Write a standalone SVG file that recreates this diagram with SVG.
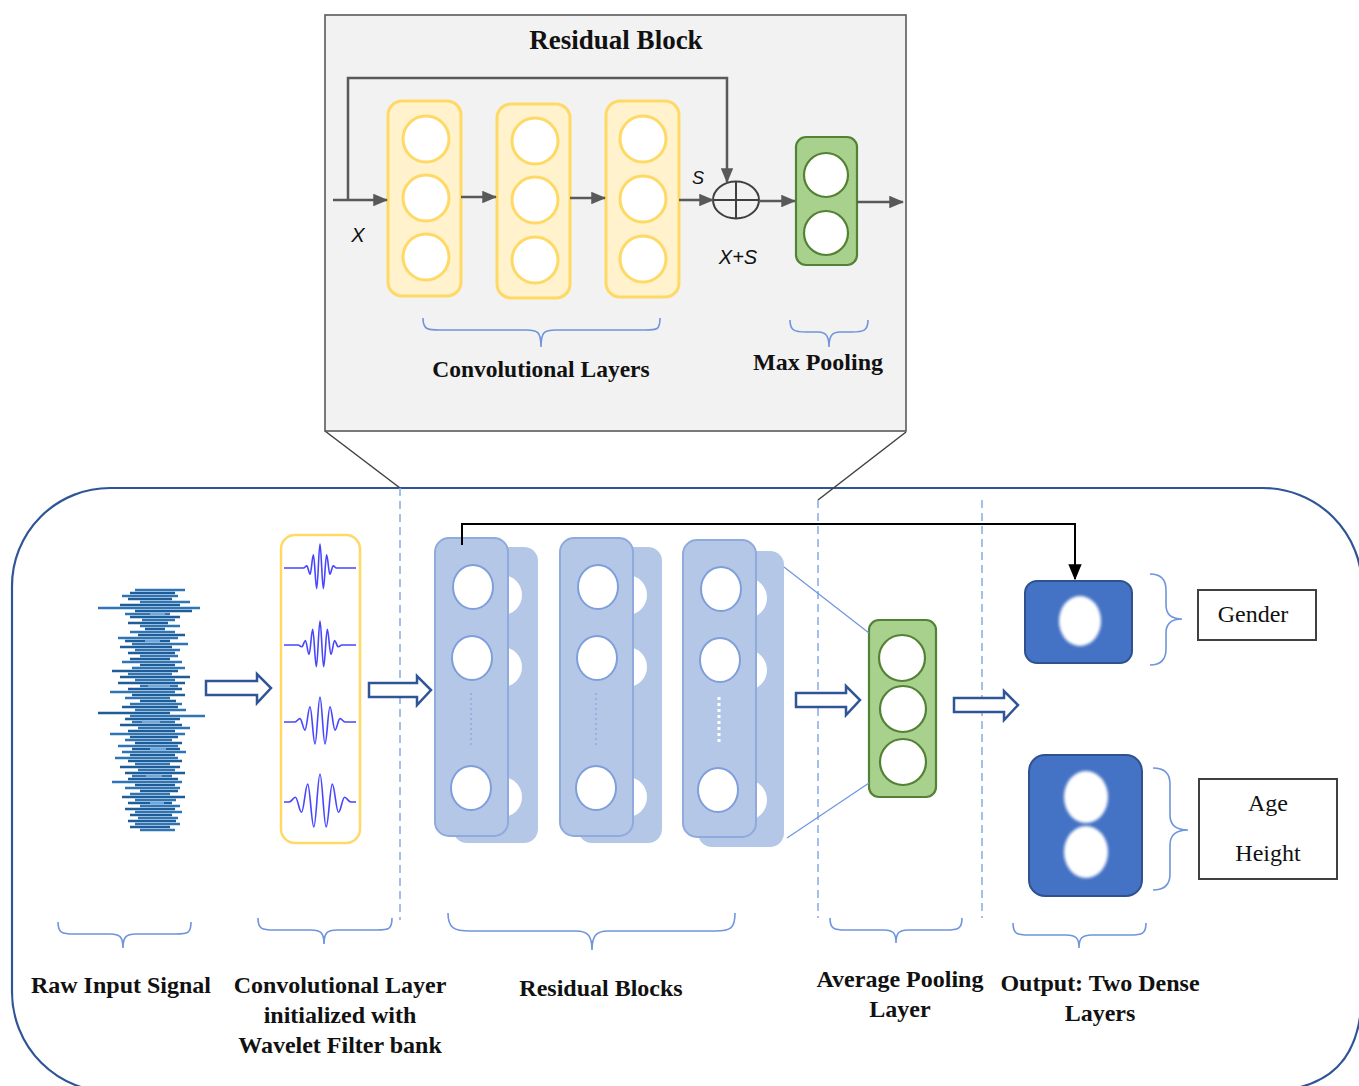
<svg xmlns="http://www.w3.org/2000/svg" width="1359" height="1086" viewBox="0 0 1359 1086">
<defs>
<style>
.lbl{font-family:"Liberation Serif","Times New Roman",serif;font-weight:bold;font-size:24px;fill:#111;text-anchor:middle}
.it{font-family:"Liberation Sans",Arial,sans-serif;font-style:italic;font-size:20px;fill:#111;text-anchor:middle}
.reg{font-family:"Liberation Serif","Times New Roman",serif;font-size:24px;fill:#111;text-anchor:middle}
.conv{fill:#fff2cc;stroke:#ffd966;stroke-width:3}
.cc{fill:#fff;stroke:#ffd966;stroke-width:3}
.grn{fill:#a9d18e;stroke:#548235;stroke-width:2.2}
.gc{fill:#fff;stroke:#548235;stroke-width:2.2}
.rb{fill:#b4c7e7;stroke:#8faadc;stroke-width:2}
.rbb{fill:#b4c7e7}
.rc{fill:#fff;stroke:#7f9fdb;stroke-width:2}
.ga{stroke:#595959;stroke-width:2.5;fill:none;marker-end:url(#ah)}
.ha{fill:#fff;stroke:#2f5597;stroke-width:2.5;stroke-linejoin:miter}
.br{fill:none;stroke:#6f95dc;stroke-width:1.6}
.dash{stroke:#8fb0e8;stroke-width:1.6;stroke-dasharray:8 5}
.wv{fill:none;stroke:#4646ff;stroke-width:1.6;stroke-linejoin:round}
.den{fill:#4472c4;stroke:#2f528f;stroke-width:2}
.sig1{fill:none;stroke:#2e75b6;stroke-width:2.6}
.sig2{fill:none;stroke:#1f5d99;stroke-width:2.6}
.sig3{fill:none;stroke:#6fa8dc;stroke-width:2.4}
</style>
<marker id="ah" viewBox="0 0 12 10" refX="11" refY="5" markerWidth="6" markerHeight="5" orient="auto">
<path d="M0,0 L12,5 L0,10 z" fill="#595959"/>
</marker>
<marker id="bk" viewBox="0 0 12 10" refX="11" refY="5" markerWidth="8" markerHeight="7" orient="auto">
<path d="M0,0 L12,5 L0,10 z" fill="#000"/>
</marker>
<filter id="blur" x="-30%" y="-30%" width="160%" height="160%">
<feGaussianBlur stdDeviation="1.4"/>
</filter>
</defs>
<rect width="1359" height="1086" fill="#fff"/>

<!-- outer frame -->
<path id="frame" d="M110,488 H1263 A99,99 0 0 1 1362,587 V990 C1362,1060 1330,1092 1258,1092 H112 A100,100 0 0 1 12,992 V586 A98,98 0 0 1 110,488 Z" fill="none" stroke="#2f5597" stroke-width="2.2"/>

<!-- zoom lines -->
<g id="zoomlines" stroke="#404040" stroke-width="1.5">
<line x1="325" y1="431" x2="400" y2="488"/>
<line x1="906" y1="432" x2="818" y2="500"/>
</g>

<!-- dashed separators -->
<g id="separators" class="dash">
<line x1="400" y1="488" x2="400" y2="920"/>
<line x1="818" y1="500" x2="818" y2="918"/>
<line x1="982" y1="500" x2="982" y2="918"/>
</g>

<!-- residual block detail -->
<g id="residual-detail">
<rect x="325" y="15" width="581" height="416" fill="#f2f2f2" stroke="#595959" stroke-width="1.6"/>
<text x="616" y="49" class="lbl" style="font-size:27px">Residual Block</text>
</g>
<g id="conv1">
<rect x="388" y="101" width="73" height="195" rx="14" class="conv"/>
<circle cx="426" cy="139" r="23" class="cc"/>
<circle cx="426" cy="198" r="23" class="cc"/>
<circle cx="426" cy="257" r="23" class="cc"/>
</g>
<g id="conv2">
<rect x="497" y="104" width="73" height="194" rx="14" class="conv"/>
<circle cx="535" cy="141" r="23" class="cc"/>
<circle cx="535" cy="200" r="23" class="cc"/>
<circle cx="535" cy="260" r="23" class="cc"/>
</g>
<g id="conv3">
<rect x="606" y="101" width="73" height="196" rx="14" class="conv"/>
<circle cx="643" cy="139" r="23" class="cc"/>
<circle cx="643" cy="199" r="23" class="cc"/>
<circle cx="643" cy="259" r="23" class="cc"/>
</g>
<g id="add">
<ellipse cx="736" cy="200" rx="23" ry="18.5" fill="none" stroke="#404040" stroke-width="2"/>
<line x1="736" y1="181.5" x2="736" y2="218.5" stroke="#404040" stroke-width="2"/>
<line x1="713" y1="200" x2="759" y2="200" stroke="#404040" stroke-width="2"/>
</g>
<g id="maxpool">
<rect x="796" y="137" width="61" height="128" rx="10" class="grn"/>
<circle cx="826" cy="175" r="22" class="gc"/>
<circle cx="826" cy="233" r="22" class="gc"/>
</g>
<g id="top-labels">
<text x="358" y="242" class="it">X</text>
<text x="698" y="184" class="it" style="font-size:18px">S</text>
<text x="738" y="264" class="it">X+S</text>
<path class="br" d="M423,318 C423,330 428,330 440,330 H526 C538,330 541,332 541,347 C541,332 544,330 556,330 H645 C657,330 660,330 660,318"/>
<path class="br" d="M790,320 C790,331 795,332 806,332 H818 C826,332 829,336 829,347 C829,336 832,332 840,332 H852 C863,332 868,331 868,320"/>
<text x="541" y="377" class="lbl" style="font-size:23.5px">Convolutional Layers</text>
<text x="818" y="370" class="lbl">Max Pooling</text>
</g>

<!-- raw input signal -->
<g id="raw-signal">
<path class="sig1" d="M135,590H185M122,596H178M140,602H190M98,608H200M125,614H170M142,620H175M140,626H180M130,632H175M118,638H178M132,644H188M135,650H180M140,656H178M122,662H182M132,668H185M128,674H172M135,680H175M140,686H178M110,692H175M125,698H170M130,704H182M135,710H186M130,716H205M132,722H175M138,728H190M110,734H185M125,740H172M118,746H178M122,752H186M115,758H178M135,764H170M138,770H175M132,776H172M112,782H182M125,788H180M130,794H170M135,800H176M140,806H180M135,812H182M138,818H178M135,824H180M140,830H175"/>
<path class="sig2" d="M130,593H175M128,599H172M120,605H180M135,611H192M130,617H180M128,623H168M145,629H165M138,635H185M125,641H170M120,647H172M128,653H175M130,659H170M140,665H175M112,671H178M120,677H190M118,683H185M128,689H182M132,695H185M140,701H176M122,707H178M98,713H170M125,719H180M120,725H182M128,731H175M130,737H178M135,743H182M132,749H180M130,755H175M128,761H182M120,767H180M125,773H185M128,779H178M135,785H175M140,791H178M122,797H185M128,803H172M125,809H175M130,815H172M128,821H176M130,827H170"/>
<path class="sig3" d="M150,614H165M145,641H160M148,686H170M142,722H160M150,749H166M146,776H162M150,803H164"/>
</g>

<!-- wavelet filter bank -->
<g id="wavelet-bank">
<rect x="281" y="535" width="79" height="308" rx="14" fill="#fff" stroke="#ffd966" stroke-width="2.5"/>
<path class="wv" d="M284,568 H303.5 C304.7,568 305.6,565.9 306.8,565.9 C308,565.9 308.9,574.2 310.1,574.2 C311.3,574.2 312.2,554.9 313.4,554.9 C314.6,554.9 315.5,588.6 316.7,588.6 C317.9,588.6 318.8,544 320,544 C321.2,544 322.1,588.6 323.3,588.6 C324.5,588.6 325.4,554.9 326.6,554.9 C327.8,554.9 328.7,574.2 329.9,574.2 C331.1,574.2 332,565.9 333.2,565.9 C334.4,565.9 335.3,568 336.5,568 H356"/>
<path class="wv" d="M284,645 H298.1 C299.4,645 300.4,646.8 301.75,646.8 C303.1,646.8 304.1,640.5 305.4,640.5 C306.7,640.5 307.7,654.4 309.05,654.4 C310.4,654.4 311.4,629.2 312.7,629.2 C314,629.2 315,666.6 316.35,666.6 C317.7,666.6 318.7,621 320,621 C321.3,621 322.3,666.6 323.65,666.6 C325,666.6 326,629.2 327.3,629.2 C328.6,629.2 329.6,654.4 330.95,654.4 C332.3,654.4 333.3,640.5 334.6,640.5 C335.9,640.5 336.9,646.8 338.25,646.8 C339.6,646.8 340.6,645 341.9,645 H356"/>
<path class="wv" d="M284,722 H295 C296.8,722 298.2,718.6 300,718.6 C301.8,718.6 303.2,730.1 305,730.1 C306.8,730.1 308.2,706.8 310,706.8 C311.8,706.8 313.2,744 315,744 C316.8,744 318.2,697 320,697 C321.8,697 323.2,744 325,744 C326.8,744 328.2,706.8 330,706.8 C331.8,706.8 333.2,730.1 335,730.1 C336.8,730.1 338.2,718.6 340,718.6 C341.8,718.6 343.2,722 345,722 H356"/>
<path class="wv" d="M284,802 H289.25 C291.5,802 293.2,797.3 295.4,797.3 C297.6,797.3 299.3,812.2 301.55,812.2 C303.8,812.2 305.5,784.1 307.7,784.1 C309.9,784.1 311.6,827 313.85,827 C316.1,827 317.8,774 320,774 C322.2,774 323.9,827 326.15,827 C328.4,827 330.1,784.1 332.3,784.1 C334.5,784.1 336.2,812.2 338.45,812.2 C340.7,812.2 342.4,797.3 344.6,797.3 C346.8,797.3 348.5,802 350.75,802 H356"/>
</g>

<!-- residual blocks -->
<g id="resblock1">
<rect x="453" y="547" width="85" height="296" rx="14" class="rbb"/>
<circle cx="502" cy="595" r="20" fill="#fff"/>
<circle cx="502" cy="667" r="20" fill="#fff"/>
<circle cx="502" cy="797" r="20" fill="#fff"/>
<rect x="435" y="538" width="73" height="298" rx="14" class="rb"/>
<ellipse cx="473" cy="587" rx="20" ry="22" class="rc"/>
<ellipse cx="472" cy="658" rx="20" ry="22" class="rc"/>
<ellipse cx="471" cy="788" rx="20" ry="22" class="rc"/>
<line x1="471" y1="693" x2="471" y2="747" stroke="#8faadc" stroke-width="1.5" stroke-dasharray="2 3"/>
</g>
<g id="resblock2">
<rect x="578" y="547" width="84" height="296" rx="14" class="rbb"/>
<circle cx="627" cy="595" r="20" fill="#fff"/>
<circle cx="627" cy="667" r="20" fill="#fff"/>
<circle cx="627" cy="797" r="20" fill="#fff"/>
<rect x="560" y="538" width="73" height="298" rx="14" class="rb"/>
<ellipse cx="598" cy="587" rx="20" ry="22" class="rc"/>
<ellipse cx="597" cy="658" rx="20" ry="22" class="rc"/>
<ellipse cx="596" cy="788" rx="20" ry="22" class="rc"/>
<line x1="596" y1="693" x2="596" y2="747" stroke="#8faadc" stroke-width="1.5" stroke-dasharray="2 3"/>
</g>
<g id="resblock3">
<rect x="698" y="551" width="86" height="296" rx="14" class="rbb"/>
<circle cx="747" cy="598" r="20" fill="#fff"/>
<circle cx="747" cy="670" r="20" fill="#fff"/>
<circle cx="747" cy="800" r="20" fill="#fff"/>
<rect x="683" y="540" width="73" height="297" rx="14" class="rb"/>
<ellipse cx="721" cy="589" rx="20" ry="22" class="rc"/>
<ellipse cx="720" cy="660" rx="20" ry="22" class="rc"/>
<ellipse cx="718" cy="790" rx="20" ry="22" class="rc"/>
<line x1="719" y1="697" x2="719" y2="745" stroke="#fff" stroke-width="3" stroke-dasharray="3 3"/>
</g>

<!-- average pooling -->
<g id="avgpool">
<rect x="869" y="620" width="67" height="177" rx="10" class="grn"/>
<circle cx="902" cy="658" r="23" class="gc"/>
<circle cx="903" cy="709" r="23" class="gc"/>
<circle cx="903" cy="762" r="23" class="gc"/>
</g>

<!-- dense outputs -->
<g id="dense1">
<rect x="1025" y="581" width="107" height="82" rx="12" class="den"/>
<ellipse cx="1080" cy="621" rx="21" ry="25" fill="#fff" filter="url(#blur)"/>
</g>
<g id="dense2">
<rect x="1029" y="755" width="113" height="141" rx="16" class="den"/>
<ellipse cx="1086" cy="797" rx="22" ry="26" fill="#fff" filter="url(#blur)"/>
<ellipse cx="1086" cy="852" rx="22" ry="26" fill="#fff" filter="url(#blur)"/>
</g>
<g id="out-gender">
<path class="br" d="M1150,574 Q1166,574 1166,590 V605 Q1166,619 1182,619 Q1166,619 1166,633 V649 Q1166,665 1150,665"/>
<rect x="1198" y="590" width="118" height="50" fill="#fff" stroke="#404040" stroke-width="2"/>
<text x="1253" y="622" class="reg">Gender</text>
</g>
<g id="out-age">
<path class="br" d="M1153,768 Q1170,768 1170,784 V815 Q1170,830 1188,830 Q1170,830 1170,845 V874 Q1170,890 1153,890"/>
<rect x="1199" y="779" width="138" height="100" fill="#fff" stroke="#404040" stroke-width="2"/>
<text x="1268" y="811" class="reg">Age</text>
<text x="1268" y="861" class="reg">Height</text>
</g>

<!-- connectors -->
<g id="connectors">
<line x1="333" y1="200" x2="387" y2="200" class="ga"/>
<polyline points="348,200 348,78 727,78 727,182" class="ga"/>
<line x1="461" y1="197" x2="496" y2="197" class="ga"/>
<line x1="570" y1="198" x2="605" y2="198" class="ga"/>
<line x1="679" y1="200" x2="713" y2="200" class="ga"/>
<line x1="759" y1="201" x2="795" y2="201" class="ga"/>
<line x1="857" y1="202" x2="903" y2="202" class="ga"/>
<polygon class="ha" points="206,681 257,681 257,674 271,688 257,703 257,695 206,695"/>
<polygon class="ha" points="369,683 417,683 417,676 431,690 417,705 417,697 369,697"/>
<polygon class="ha" points="796,693 846,693 846,686 860,700 846,715 846,707 796,707"/>
<polygon class="ha" points="954,698 1004,698 1004,691 1018,705 1004,720 1004,712 954,712"/>
<line x1="784" y1="567" x2="869" y2="633" stroke="#6f95dc" stroke-width="1.2"/>
<line x1="787" y1="838" x2="869" y2="783" stroke="#6f95dc" stroke-width="1.2"/>
<polyline points="462,545 462,524 1075,524 1075,579" fill="none" stroke="#000" stroke-width="2" marker-end="url(#bk)"/>
</g>

<!-- bottom braces and labels -->
<g id="bottom-labels">
<path class="br" d="M58,922 C58,933 62,934 74,934 H110 C120,934 123,937 123,948 C123,937 126,934 136,934 H176 C188,934 191,933 191,922"/>
<path class="br" d="M258,918 C258,929 262,930 274,930 H311 C321,930 324,933 324,944 C324,933 327,930 337,930 H377 C389,930 392,929 392,918"/>
<path class="br" d="M448,913 C448,928 454,931 470,931 H576 C588,931 592,936 592,950 C592,936 596,931 608,931 H715 C731,931 735,928 735,913"/>
<path class="br" d="M830,918 C830,929 834,930 846,930 H884 C893,930 896,933 896,943 C896,933 899,930 908,930 H946 C958,930 962,929 962,918"/>
<path class="br" d="M1013,923 C1013,934 1017,935 1029,935 H1066 C1076,935 1079,938 1079,948 C1079,938 1082,935 1092,935 H1130 C1142,935 1146,934 1146,923"/>
<text x="121" y="993" class="lbl">Raw Input Signal</text>
<text x="340" y="993" class="lbl">Convolutional Layer</text>
<text x="340" y="1023" class="lbl">initialized with</text>
<text x="340" y="1053" class="lbl">Wavelet Filter bank</text>
<text x="601" y="996" class="lbl">Residual Blocks</text>
<text x="900" y="987" class="lbl">Average Pooling</text>
<text x="900" y="1017" class="lbl">Layer</text>
<text x="1100" y="991" class="lbl">Output: Two Dense</text>
<text x="1100" y="1021" class="lbl">Layers</text>
</g>
</svg>
